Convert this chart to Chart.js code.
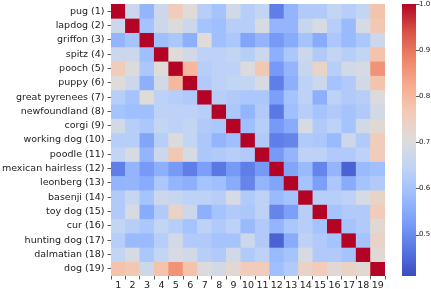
<!DOCTYPE html>
<html>
<head>
<meta charset="utf-8">
<script src="https://cdn.jsdelivr.net/npm/chart.js@4/dist/chart.umd.min.js"></script>
<style>
  html, body { margin: 0; padding: 0; background: #fff; }
  canvas { display: block; }
</style>
</head>
<body>
<canvas id="heat" width="431" height="289"></canvas>
<script>
// row / column names
var names = ["pug (1)", "lapdog (2)", "griffon (3)", "spitz (4)", "pooch (5)", "puppy (6)",
  "great pyrenees (7)", "newfoundland (8)", "corgi (9)", "working dog (10)", "poodle (11)",
  "mexican hairless (12)", "leonberg (13)", "basenji (14)", "toy dog (15)", "cur (16)",
  "hunting dog (17)", "dalmatian (18)", "dog (19)"];
var colLabels = ["1","2","3","4","5","6","7","8","9","10","11","12","13","14","15","16","17","18","19"];

// similarity values, one row per name
var simRows = [
  [1.00,.67,.57,.67,.76,.71,.63,.60,.68,.63,.65,.48,.57,.62,.62,.65,.63,.65,.78],
  [.67,1.00,.60,.67,.70,.67,.60,.59,.63,.63,.69,.57,.57,.66,.69,.63,.58,.69,.77],
  [.57,.60,1.00,.59,.61,.56,.71,.59,.61,.54,.57,.52,.55,.60,.55,.61,.58,.61,.67],
  [.67,.67,.59,1.00,.71,.68,.64,.64,.65,.63,.67,.56,.61,.67,.62,.65,.63,.65,.78],
  [.76,.70,.61,.71,1.00,.80,.63,.64,.64,.70,.77,.52,.57,.66,.74,.63,.68,.69,.86],
  [.71,.67,.56,.68,.80,1.00,.62,.64,.65,.65,.69,.48,.56,.64,.67,.60,.62,.68,.78],
  [.63,.60,.71,.64,.63,.62,1.00,.63,.62,.61,.61,.53,.60,.64,.56,.64,.62,.63,.70],
  [.60,.59,.59,.64,.64,.64,.63,1.00,.61,.57,.62,.47,.59,.63,.60,.62,.60,.62,.68],
  [.68,.63,.61,.65,.64,.65,.62,.61,1.00,.59,.63,.52,.55,.69,.62,.64,.60,.68,.72],
  [.63,.63,.54,.63,.70,.65,.61,.57,.59,1.00,.62,.48,.49,.62,.61,.58,.67,.62,.76],
  [.65,.69,.57,.67,.77,.69,.61,.62,.63,.62,1.00,.52,.57,.64,.64,.62,.62,.64,.76],
  [.48,.57,.52,.56,.52,.48,.53,.47,.52,.48,.52,1.00,.54,.58,.49,.57,.44,.58,.59],
  [.57,.57,.55,.61,.57,.56,.60,.59,.55,.49,.57,.54,1.00,.60,.53,.61,.55,.60,.62],
  [.62,.66,.60,.67,.66,.64,.64,.63,.69,.62,.64,.58,.60,1.00,.63,.63,.64,.69,.74],
  [.62,.69,.55,.62,.74,.67,.56,.60,.62,.61,.64,.49,.53,.63,1.00,.60,.62,.62,.76],
  [.65,.63,.61,.65,.63,.60,.64,.62,.64,.58,.62,.57,.61,.63,.60,1.00,.60,.62,.72],
  [.63,.58,.58,.63,.68,.62,.62,.60,.60,.67,.62,.44,.55,.64,.62,.60,1.00,.60,.74],
  [.65,.69,.61,.65,.69,.68,.63,.62,.68,.62,.64,.58,.60,.69,.62,.62,.60,1.00,.72],
  [.78,.77,.67,.78,.86,.78,.70,.68,.72,.76,.76,.59,.62,.74,.76,.72,.74,.72,1.00]
];

// colour bar range and ticks
var vMin = 0.41, vMax = 1.0;
var cbTicks = [0.5, 0.6, 0.7, 0.8, 0.9, 1.0];

// coolwarm, 11 stops
var coolwarm = ["#3b4cc0","#5977e3","#7b9ff9","#9ebeff","#c0d4f5","#dddcdc",
                "#f2cbb7","#f7ac8e","#ee8468","#d65244","#b40426"];

function hexRgb(h) {
  return [parseInt(h.substr(1,2),16), parseInt(h.substr(3,2),16), parseInt(h.substr(5,2),16)];
}
function colorFor(v) {
  var t = (v - vMin) / (vMax - vMin);
  t = Math.max(0, Math.min(1, t)) * 10;
  var i = Math.min(9, Math.floor(t)), f = t - i;
  var a = hexRgb(coolwarm[i]), b = hexRgb(coolwarm[i+1]);
  return "rgb(" + Math.round(a[0]+(b[0]-a[0])*f) + "," + Math.round(a[1]+(b[1]-a[1])*f) + "," + Math.round(a[2]+(b[2]-a[2])*f) + ")";
}

var font = { family: "DejaVu Sans", size: 9.5 };

// one dataset per row, each cell a floating bar spanning that row
var datasets = simRows.map(function(row, r){
  return {
    label: names[r],
    data: row.map(function(){ return [r + 0.5, r + 1.5]; }),
    backgroundColor: row.map(colorFor),
    borderWidth: 0,
    barPercentage: 1.0,
    categoryPercentage: 1.0,
    grouped: false
  };
});

// colour bar drawn beside the heatmap using the cb scale
var colorBar = {
  id: "colorBar",
  afterDraw: function(chart){
    var s = chart.scales.cb, ctx = chart.ctx;
    var x0 = 402, w = 14;
    var g = ctx.createLinearGradient(0, s.getPixelForValue(vMin), 0, s.getPixelForValue(vMax));
    coolwarm.forEach(function(c, i){ g.addColorStop(i / 10, c); });
    ctx.save();
    ctx.fillStyle = g;
    ctx.fillRect(x0, s.top, w, s.bottom - s.top);
    ctx.strokeStyle = "#333";
    ctx.lineWidth = 0.8;
    cbTicks.forEach(function(v){
      var y = Math.round(s.getPixelForValue(v)) + 0.5;
      ctx.beginPath();
      ctx.moveTo(x0 + w, y);
      ctx.lineTo(x0 + w + 3.5, y);
      ctx.stroke();
    });
    ctx.restore();
  }
};

function noPad(s){ s.paddingTop = 0; s.paddingBottom = 0; }

new Chart(document.getElementById("heat"), {
  type: "bar",
  data: { labels: colLabels, datasets: datasets },
  options: {
    responsive: false,
    animation: false,
    layout: { padding: { top: 4, left: 0, right: 0, bottom: 0 } },
    plugins: { legend: { display: false }, tooltip: { enabled: false } },
    scales: {
      x: {
        grid: { drawOnChartArea: false, tickLength: 3.5, color: "#333", lineWidth: 0.8 },
        border: { display: false },
        ticks: { font: font, color: "#222", padding: 0, maxRotation: 0, autoSkip: false },
        afterFit: function(s){ s.height = 13; }
      },
      y: {
        type: "linear",
        reverse: true,
        min: 0.5,
        max: 19.5,
        grid: { drawOnChartArea: false, tickLength: 3.5, color: "#333", lineWidth: 0.8 },
        border: { display: false },
        afterBuildTicks: function(s){ s.ticks = names.map(function(n, i){ return { value: i + 1 }; }); },
        ticks: { font: font, color: "#222", padding: 3, autoSkip: false,
          callback: function(v){ return names[v - 1]; } },
        afterFit: function(s){ s.width = 111; noPad(s); }
      },
      cb: {
        type: "linear",
        position: "right",
        min: vMin,
        max: vMax,
        grid: { display: true, drawOnChartArea: false, tickLength: 31, color: "rgba(0,0,0,0)" },
        border: { display: false },
        afterBuildTicks: function(s){ s.ticks = cbTicks.map(function(v){ return { value: v }; }); },
        ticks: { font: { family: "DejaVu Sans", size: 7 }, color: "#222", padding: 3,
          callback: function(v){ return v.toFixed(1); } },
        afterFit: function(s){ s.width = 46; noPad(s); }
      }
    }
  },
  plugins: [colorBar]
});
</script>
</body>
</html>
